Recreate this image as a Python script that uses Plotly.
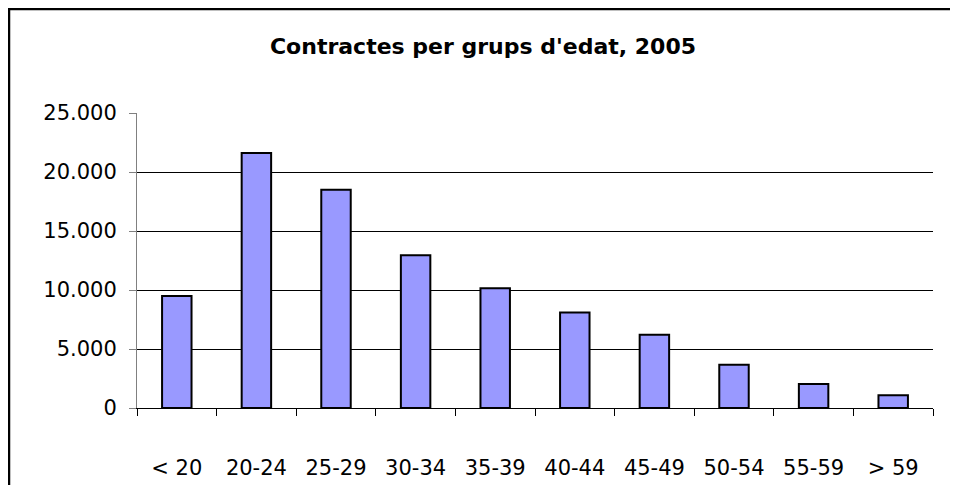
import plotly.graph_objects as go

categories = ["< 20", "20-24", "25-29", "30-34", "35-39", "40-44", "45-49", "50-54", "55-59", "> 59"]
contractes = [9500, 21600, 18500, 12950, 10150, 8100, 6200, 3670, 2030, 1070]
y_ticks = [0, 5000, 10000, 15000, 20000, 25000]
title_text = "Contractes per grups d'edat, 2005"

# The page body has an 8px margin, so the figure is laid out 8px smaller.
W, H = 950, 477
L, R, T, B = 129, 25, 105, 77
pw, ph = W - L - R, H - T - B

fig = go.Figure()
fig.add_trace(go.Bar(
    x=categories, y=contractes, width=0.37,
    marker=dict(color="#9999FF", line=dict(color="black", width=2)),
    hoverinfo="x+y",
))

def px_x(p):
    return (p - L) / pw

def px_y(p):
    return (H - B - p) / ph

frame = dict(color="black", width=2.5)
fig.update_layout(
    width=W, height=H,
    margin=dict(l=L, r=R, t=T, b=B, autoexpand=False),
    paper_bgcolor="white", plot_bgcolor="white",
    separators=",.",
    showlegend=False,
    font=dict(family="DejaVu Sans", size=21, color="black"),
    title=dict(text="<b>" + title_text + "</b>", x=475 / W, y=1 - 38 / H,
               xanchor="center", yanchor="middle", xref="container",
               font=dict(family="DejaVu Sans", size=22, color="black")),
    shapes=[
        dict(type="line", xref="paper", yref="paper",
             x0=px_x(0), x1=px_x(W + 20), y0=px_y(1), y1=px_y(1), line=frame, layer="below"),
        dict(type="line", xref="paper", yref="paper",
             x0=px_x(1), x1=px_x(1), y0=px_y(0), y1=px_y(H + 20), line=frame, layer="below"),
    ],
)
fig.update_xaxes(
    showgrid=False, showline=True, linecolor="black", linewidth=1,
    ticks="outside", tickson="boundaries", ticklen=7, tickcolor="black",
    ticklabelstandoff=41,
    tickfont=dict(family="DejaVu Sans", size=21, color="black"),
)
fig.update_yaxes(
    range=[0, 25000], tickvals=y_ticks, tickformat=",d",
    showgrid=True, gridcolor="black", gridwidth=1,
    showline=True, linecolor="#808080", linewidth=1,
    ticks="outside", ticklen=7, tickcolor="#808080",
    ticklabelstandoff=8, zeroline=False,
    tickfont=dict(family="DejaVu Sans", size=21, color="black"),
)
fig.write_html("out.html", config={"displayModeBar": False},
               post_script="document.documentElement.style.overflow='hidden';")
